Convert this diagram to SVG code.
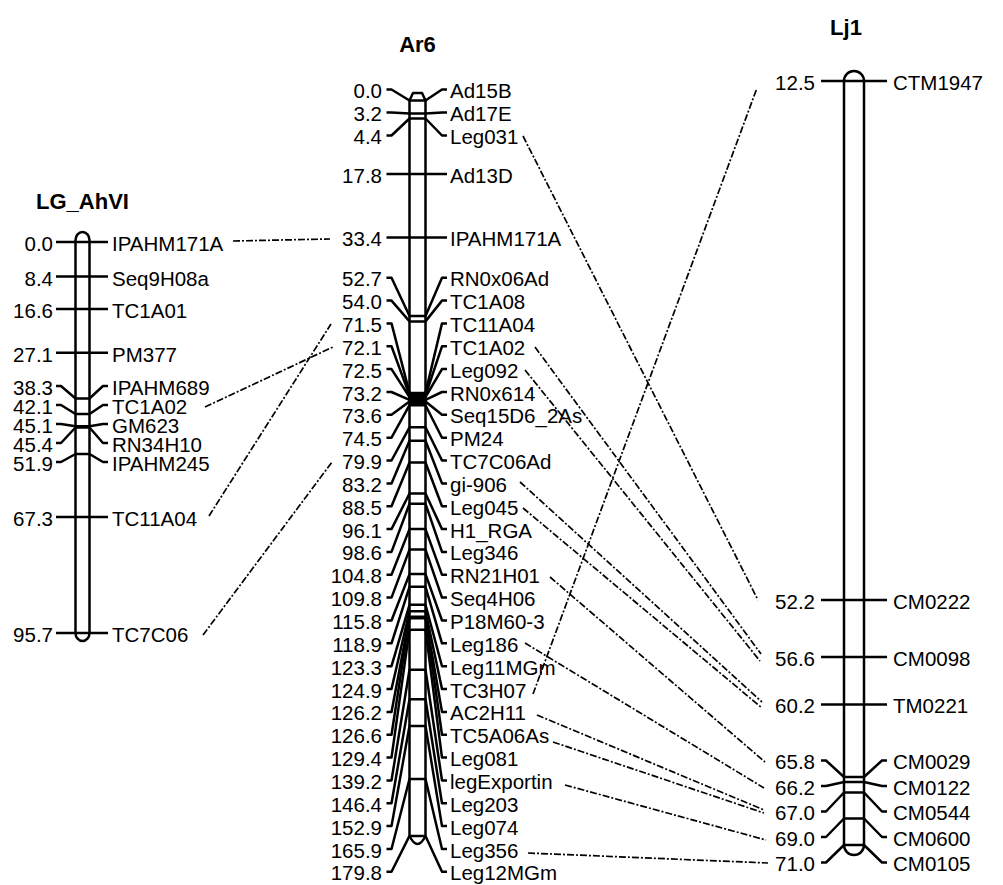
<svg xmlns="http://www.w3.org/2000/svg" width="1003" height="885" viewBox="0 0 1003 885">
<style>
text{font-family:"Liberation Sans",Arial,sans-serif;font-size:20.5px;fill:#000}
.n{text-anchor:end}
.ttl{font-weight:bold;font-size:22px;text-anchor:middle}
.tk{fill:none;stroke:#000;stroke-width:2.5;stroke-linejoin:round}
.bar{fill:#fff;stroke:#000;stroke-width:2.5;stroke-linejoin:round}
.cn{fill:none;stroke:#000;stroke-width:1.7;stroke-dasharray:7 2 2 2}
</style>
<rect width="1003" height="885" fill="#fff"/>
<g id="connectors">
<line class="cn" x1="233" y1="241" x2="330" y2="239"/>
<line class="cn" x1="205" y1="407" x2="333" y2="347"/>
<line class="cn" x1="209" y1="516" x2="331" y2="324"/>
<line class="cn" x1="203" y1="635" x2="332" y2="462"/>
<line class="cn" x1="523" y1="136" x2="758" y2="600"/>
<line class="cn" x1="533" y1="694" x2="757" y2="88"/>
<line class="cn" x1="535" y1="347" x2="761" y2="654"/>
<line class="cn" x1="525" y1="370" x2="760" y2="661"/>
<line class="cn" x1="520" y1="482" x2="762" y2="702"/>
<line class="cn" x1="523" y1="508" x2="762" y2="708"/>
<line class="cn" x1="550" y1="577" x2="765" y2="762"/>
<line class="cn" x1="525" y1="643" x2="764" y2="788"/>
<line class="cn" x1="537" y1="715" x2="764" y2="810"/>
<line class="cn" x1="553" y1="742" x2="764" y2="813"/>
<line class="cn" x1="565" y1="785" x2="766" y2="840"/>
<line class="cn" x1="528" y1="853" x2="768" y2="863"/>
</g>
<g id="LG_AhVI">
<text class="ttl" x="82.5" y="209">LG_AhVI</text>
<path class="bar" d="M75.5,240 A7,8 0 0 1 89.5,240 L89.5,633 A7,8 0 0 1 75.5,633 Z"/>
<line class="tk" x1="56" y1="242" x2="108" y2="242"/>
<line class="tk" x1="56" y1="276.5" x2="108" y2="276.5"/>
<line class="tk" x1="56" y1="309" x2="108" y2="309"/>
<line class="tk" x1="56" y1="352.7" x2="108" y2="352.7"/>
<polyline class="tk" points="56,386 61,386 75.5,398.5 89.5,398.5 103,386 108,386"/>
<polyline class="tk" points="56,405 61,405 75.5,414 89.5,414 103,405 108,405"/>
<polyline class="tk" points="56,424 61,424 75.5,426.2 89.5,426.2 103,424 108,424"/>
<polyline class="tk" points="56,443 61,443 75.5,427.5 89.5,427.5 103,443 108,443"/>
<polyline class="tk" points="56,462 61,462 75.5,454 89.5,454 103,462 108,462"/>
<line class="tk" x1="56" y1="517" x2="108" y2="517"/>
<line class="tk" x1="56" y1="633" x2="108" y2="633"/>
<text class="n" x="53" y="251">0.0</text>
<text class="n" x="53" y="285.5">8.4</text>
<text class="n" x="53" y="318">16.6</text>
<text class="n" x="53" y="361.7">27.1</text>
<text class="n" x="53" y="395">38.3</text>
<text class="n" x="53" y="414">42.1</text>
<text class="n" x="53" y="433">45.1</text>
<text class="n" x="53" y="452">45.4</text>
<text class="n" x="53" y="471">51.9</text>
<text class="n" x="53" y="526">67.3</text>
<text class="n" x="53" y="642">95.7</text>
<text x="112" y="251">IPAHM171A</text>
<text x="112" y="285.5">Seq9H08a</text>
<text x="112" y="318">TC1A01</text>
<text x="112" y="361.7">PM377</text>
<text x="112" y="395">IPAHM689</text>
<text x="112" y="414">TC1A02</text>
<text x="112" y="433">GM623</text>
<text x="112" y="452">RN34H10</text>
<text x="112" y="471">IPAHM245</text>
<text x="112" y="526">TC11A04</text>
<text x="112" y="642">TC7C06</text>
</g>
<g id="Ar6">
<text class="ttl" x="417.5" y="52">Ar6</text>
<path class="bar" d="M409.5,100.5 L413,93 L422,93 L425.5,100.5 L425.5,836 Q417.5,852 409.5,836 Z"/>
<rect x="409.5" y="392.5" width="16" height="13.5" fill="#000"/>
<polyline class="tk" points="386.5,89.5 391.5,89.5 409.5,100.5 425.5,100.5 442,89.5 447,89.5"/>
<polyline class="tk" points="386.5,112.5 391.5,112.5 409.5,113.6 425.5,113.6 442,112.5 447,112.5"/>
<polyline class="tk" points="386.5,135.5 391.5,135.5 409.5,118.5 425.5,118.5 442,135.5 447,135.5"/>
<line class="tk" x1="386.5" y1="174" x2="447" y2="174"/>
<line class="tk" x1="386.5" y1="237.5" x2="447" y2="237.5"/>
<polyline class="tk" points="386.5,277.7 391.5,277.7 409.5,316 425.5,316 442,277.7 447,277.7"/>
<polyline class="tk" points="386.5,300.6 391.5,300.6 409.5,321.4 425.5,321.4 442,300.6 447,300.6"/>
<polyline class="tk" points="386.5,323.4 391.5,323.4 409.5,392.9 425.5,392.9 442,323.4 447,323.4"/>
<polyline class="tk" points="386.5,346.3 391.5,346.3 409.5,395.4 425.5,395.4 442,346.3 447,346.3"/>
<polyline class="tk" points="386.5,369.1 391.5,369.1 409.5,397 425.5,397 442,369.1 447,369.1"/>
<polyline class="tk" points="386.5,392 391.5,392 409.5,399.9 425.5,399.9 442,392 447,392"/>
<polyline class="tk" points="386.5,414.8 391.5,414.8 409.5,401.5 425.5,401.5 442,414.8 447,414.8"/>
<polyline class="tk" points="386.5,437.7 391.5,437.7 409.5,405.2 425.5,405.2 442,437.7 447,437.7"/>
<polyline class="tk" points="386.5,460.5 391.5,460.5 409.5,427.3 425.5,427.3 442,460.5 447,460.5"/>
<polyline class="tk" points="386.5,483.4 391.5,483.4 409.5,440.8 425.5,440.8 442,483.4 447,483.4"/>
<polyline class="tk" points="386.5,506.2 391.5,506.2 409.5,462.5 425.5,462.5 442,506.2 447,506.2"/>
<polyline class="tk" points="386.5,529.1 391.5,529.1 409.5,493.5 425.5,493.5 442,529.1 447,529.1"/>
<polyline class="tk" points="386.5,551.9 391.5,551.9 409.5,503.8 425.5,503.8 442,551.9 447,551.9"/>
<polyline class="tk" points="386.5,574.8 391.5,574.8 409.5,529.1 425.5,529.1 442,574.8 447,574.8"/>
<polyline class="tk" points="386.5,597.6 391.5,597.6 409.5,549.6 425.5,549.6 442,597.6 447,597.6"/>
<polyline class="tk" points="386.5,620.5 391.5,620.5 409.5,574.1 425.5,574.1 442,620.5 447,620.5"/>
<polyline class="tk" points="386.5,643.3 391.5,643.3 409.5,586.8 425.5,586.8 442,643.3 447,643.3"/>
<polyline class="tk" points="386.5,666.2 391.5,666.2 409.5,604.8 425.5,604.8 442,666.2 447,666.2"/>
<polyline class="tk" points="386.5,689 391.5,689 409.5,611.3 425.5,611.3 442,689 447,689"/>
<polyline class="tk" points="386.5,711.9 391.5,711.9 409.5,616.7 425.5,616.7 442,711.9 447,711.9"/>
<polyline class="tk" points="386.5,734.7 391.5,734.7 409.5,618.3 425.5,618.3 442,734.7 447,734.7"/>
<polyline class="tk" points="386.5,757.6 391.5,757.6 409.5,629.7 425.5,629.7 442,757.6 447,757.6"/>
<polyline class="tk" points="386.5,780.4 391.5,780.4 409.5,669.8 425.5,669.8 442,780.4 447,780.4"/>
<polyline class="tk" points="386.5,803.3 391.5,803.3 409.5,699.3 425.5,699.3 442,803.3 447,803.3"/>
<polyline class="tk" points="386.5,826.1 391.5,826.1 409.5,725.9 425.5,725.9 442,826.1 447,826.1"/>
<polyline class="tk" points="386.5,849 391.5,849 409.5,779 425.5,779 442,849 447,849"/>
<polyline class="tk" points="386.5,871.8 391.5,871.8 409.5,835.9 425.5,835.9 442,871.8 447,871.8"/>
<text class="n" x="382" y="98">0.0</text>
<text class="n" x="382" y="121">3.2</text>
<text class="n" x="382" y="144">4.4</text>
<text class="n" x="382" y="182.5">17.8</text>
<text class="n" x="382" y="246">33.4</text>
<text class="n" x="382" y="286.2">52.7</text>
<text class="n" x="382" y="309.1">54.0</text>
<text class="n" x="382" y="331.9">71.5</text>
<text class="n" x="382" y="354.8">72.1</text>
<text class="n" x="382" y="377.6">72.5</text>
<text class="n" x="382" y="400.5">73.2</text>
<text class="n" x="382" y="423.3">73.6</text>
<text class="n" x="382" y="446.2">74.5</text>
<text class="n" x="382" y="469">79.9</text>
<text class="n" x="382" y="491.9">83.2</text>
<text class="n" x="382" y="514.7">88.5</text>
<text class="n" x="382" y="537.6">96.1</text>
<text class="n" x="382" y="560.4">98.6</text>
<text class="n" x="382" y="583.3">104.8</text>
<text class="n" x="382" y="606.1">109.8</text>
<text class="n" x="382" y="629">115.8</text>
<text class="n" x="382" y="651.8">118.9</text>
<text class="n" x="382" y="674.7">123.3</text>
<text class="n" x="382" y="697.5">124.9</text>
<text class="n" x="382" y="720.4">126.2</text>
<text class="n" x="382" y="743.2">126.6</text>
<text class="n" x="382" y="766.1">129.4</text>
<text class="n" x="382" y="788.9">139.2</text>
<text class="n" x="382" y="811.8">146.4</text>
<text class="n" x="382" y="834.6">152.9</text>
<text class="n" x="382" y="857.5">165.9</text>
<text class="n" x="382" y="880.3">179.8</text>
<text x="450" y="98">Ad15B</text>
<text x="450" y="121">Ad17E</text>
<text x="450" y="144">Leg031</text>
<text x="450" y="182.5">Ad13D</text>
<text x="450" y="246">IPAHM171A</text>
<text x="450" y="286.2">RN0x06Ad</text>
<text x="450" y="309.1">TC1A08</text>
<text x="450" y="331.9">TC11A04</text>
<text x="450" y="354.8">TC1A02</text>
<text x="450" y="377.6">Leg092</text>
<text x="450" y="400.5">RN0x614</text>
<text x="450" y="423.3">Seq15D6_2As</text>
<text x="450" y="446.2">PM24</text>
<text x="450" y="469">TC7C06Ad</text>
<text x="450" y="491.9">gi-906</text>
<text x="450" y="514.7">Leg045</text>
<text x="450" y="537.6">H1_RGA</text>
<text x="450" y="560.4">Leg346</text>
<text x="450" y="583.3">RN21H01</text>
<text x="450" y="606.1">Seq4H06</text>
<text x="450" y="629">P18M60-3</text>
<text x="450" y="651.8">Leg186</text>
<text x="450" y="674.7">Leg11MGm</text>
<text x="450" y="697.5">TC3H07</text>
<text x="450" y="720.4">AC2H11</text>
<text x="450" y="743.2">TC5A06As</text>
<text x="450" y="766.1">Leg081</text>
<text x="450" y="788.9">legExportin</text>
<text x="450" y="811.8">Leg203</text>
<text x="450" y="834.6">Leg074</text>
<text x="450" y="857.5">Leg356</text>
<text x="450" y="880.3">Leg12MGm</text>
</g>
<g id="Lj1">
<text class="ttl" x="846" y="35">Lj1</text>
<path class="bar" d="M844,81 A10,10 0 0 1 864,81 L864,845 A10,10 0 0 1 844,845 Z"/>
<line class="tk" x1="821" y1="81" x2="887" y2="81"/>
<line class="tk" x1="821" y1="600" x2="887" y2="600"/>
<line class="tk" x1="821" y1="657" x2="887" y2="657"/>
<line class="tk" x1="821" y1="704.5" x2="887" y2="704.5"/>
<polyline class="tk" points="821,760.5 826,760.5 844,777 864,777 882,760.5 887,760.5"/>
<polyline class="tk" points="821,786 826,786 844,782 864,782 882,786 887,786"/>
<polyline class="tk" points="821,811.5 826,811.5 844,792.5 864,792.5 882,811.5 887,811.5"/>
<polyline class="tk" points="821,837 826,837 844,818.5 864,818.5 882,837 887,837"/>
<polyline class="tk" points="821,862.5 826,862.5 844,845 864,845 882,862.5 887,862.5"/>
<text class="n" x="815" y="89.5">12.5</text>
<text class="n" x="815" y="608.5">52.2</text>
<text class="n" x="815" y="665.5">56.6</text>
<text class="n" x="815" y="713">60.2</text>
<text class="n" x="815" y="769">65.8</text>
<text class="n" x="815" y="794.5">66.2</text>
<text class="n" x="815" y="820">67.0</text>
<text class="n" x="815" y="845.5">69.0</text>
<text class="n" x="815" y="871">71.0</text>
<text x="893" y="89.5">CTM1947</text>
<text x="893" y="608.5">CM0222</text>
<text x="893" y="665.5">CM0098</text>
<text x="893" y="713">TM0221</text>
<text x="893" y="769">CM0029</text>
<text x="893" y="794.5">CM0122</text>
<text x="893" y="820">CM0544</text>
<text x="893" y="845.5">CM0600</text>
<text x="893" y="871">CM0105</text>
</g>
</svg>
